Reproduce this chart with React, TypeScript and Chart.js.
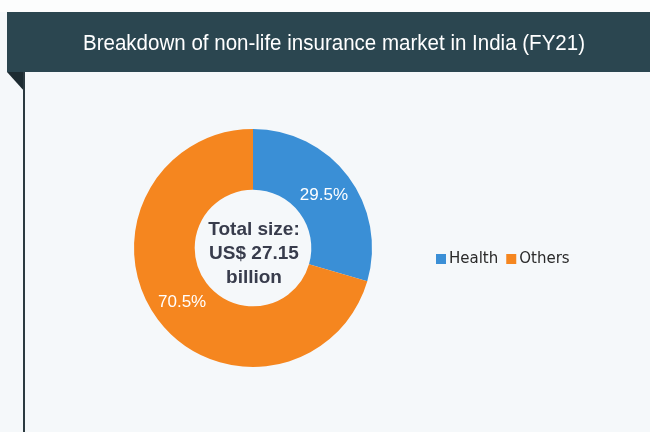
import React, { useEffect, useRef } from "react";
import { Chart, registerables } from "chart.js";

Chart.register(...registerables);

const TITLE = "Breakdown of non-life insurance market in India (FY21)";
const CATEGORIES = ["Health", "Others"];
const SHARES = [29.5, 70.5];
const COLORS = ["#3a8fd6", "#f5861f"];
const CENTER_LINES = ["Total size:", "US$ 27.15", "billion"];

const FONT = "'Liberation Sans', Arial, sans-serif";
const LEGEND_FONT = "'DejaVu Sans', Verdana, sans-serif";

export default function App() {
  const ref = useRef<HTMLCanvasElement>(null);

  useEffect(() => {
    if (!ref.current) return;
    const decor = {
      id: "decor",
      beforeDraw(chart: any) {
        const ctx = chart.ctx as CanvasRenderingContext2D;
        ctx.save();
        ctx.fillStyle = "#f5f8fa";
        ctx.fillRect(0, 0, 650, 432);
        ctx.fillStyle = "#fcfdfd";
        ctx.fillRect(0, 0, 650, 12);
        ctx.fillStyle = "#2b4650";
        ctx.fillRect(7, 12, 643, 60);
        ctx.fillStyle = "#1d2c32";
        ctx.beginPath();
        ctx.moveTo(7, 72);
        ctx.lineTo(25, 72);
        ctx.lineTo(25, 92);
        ctx.closePath();
        ctx.fill();
        ctx.fillStyle = "#2b3a40";
        ctx.fillRect(23, 72, 2, 360);
        // title, slightly condensed
        ctx.fillStyle = "#ffffff";
        ctx.font = `22px ${FONT}`;
        ctx.textAlign = "center";
        ctx.textBaseline = "alphabetic";
        const w = ctx.measureText(TITLE).width;
        const sx = Math.min(1, 502 / w);
        ctx.translate(334, 50);
        ctx.scale(sx, 1);
        ctx.fillText(TITLE, 0, 0);
        ctx.restore();
      },
      afterDatasetsDraw(chart: any) {
        const ctx = chart.ctx as CanvasRenderingContext2D;
        const meta = chart.getDatasetMeta(0);
        ctx.save();
        ctx.textAlign = "center";
        ctx.textBaseline = "middle";
        ctx.fillStyle = "#ffffff";
        ctx.font = `17px ${FONT}`;
        meta.data.forEach((arc: any, i: number) => {
          const p = arc.tooltipPosition();
          ctx.fillText(SHARES[i].toFixed(1) + "%", p.x, p.y + 1);
        });
        const cx = meta.data[0].x;
        const cy = meta.data[0].y;
        ctx.fillStyle = "#383c4c";
        ctx.font = `bold 19px ${FONT}`;
        const lh = 24;
        CENTER_LINES.forEach((t, i) => {
          ctx.fillText(t, cx + 1, cy - 18 + i * lh);
        });
        // legend
        ctx.textAlign = "left";
        ctx.font = `15px ${LEGEND_FONT}`;
        let x = 436;
        const ly = 259;
        CATEGORIES.forEach((c, i) => {
          ctx.fillStyle = COLORS[i];
          ctx.fillRect(x, ly - 5, 10, 10);
          ctx.fillStyle = "#2a2a2a";
          ctx.fillText(c, x + 13, ly);
          x += 13 + ctx.measureText(c).width + 8;
        });
        ctx.restore();
      },
    };

    const chart = new Chart(ref.current, {
      type: "doughnut",
      data: {
        labels: CATEGORIES,
        datasets: [
          {
            data: SHARES,
            backgroundColor: COLORS,
            borderWidth: 0,
            hoverOffset: 0,
          },
        ],
      },
      options: {
        responsive: false,
        animation: false,
        devicePixelRatio: 1,
        cutout: "49%",
        layout: { padding: { left: 134, right: 278, top: 129, bottom: 65 } },
        plugins: {
          legend: { display: false },
          tooltip: { enabled: false },
          title: { display: false },
        },
        events: [],
      },
      plugins: [decor],
    });
    return () => chart.destroy();
  }, []);

  return (
    <div style={{ position: "fixed", left: 0, top: 0, width: 650, height: 432 }}>
      <canvas ref={ref} width={650} height={432} style={{ display: "block" }} />
    </div>
  );
}
